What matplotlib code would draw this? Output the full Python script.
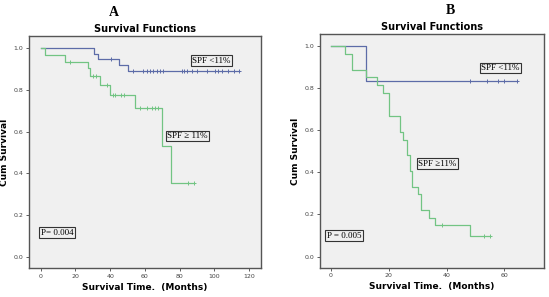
import numpy as np
import matplotlib
matplotlib.use("Agg")
import matplotlib.pyplot as plt

# ---- panel A data ----
a_low_t = [0, 30.5, 33.2, 45.3, 50.1, 114.2]
a_low_s = [1.0, 0.973, 0.946, 0.919, 0.892, 0.892]
a_low_cens_t = [40.5, 53.3, 59.1, 61.0, 63.0, 64.9, 66.8, 68.7, 70.6,
                81.2, 82.5, 84.1, 87.0, 89.9, 95.6, 100.4, 102.3, 104.3,
                108.1, 111.0, 114.2]

a_high_t = [0, 2.6, 13.8, 27.4, 28.2, 34.2, 39.9, 54.3, 70.0, 75.0, 88.5]
a_high_s = [1.0, 0.968, 0.935, 0.903, 0.868, 0.822, 0.775, 0.711, 0.533, 0.356, 0.356]
a_high_cens_t = [16.9, 30.1, 32.0, 38.4, 41.6, 43.0, 46.4, 48.0,
                 57.2, 61.0, 63.9, 65.8, 67.7, 85.0, 88.5]

# ---- panel B data ----
b_low_t = [0, 12.0, 64.2]
b_low_s = [1.0, 0.834, 0.834]
b_low_cens_t = [48.1, 54.1, 57.9, 60.0, 64.2]

b_high_t = [0, 5.0, 7.2, 12.0, 16.0, 17.9, 20.2, 23.9, 25.0, 26.2, 27.3,
            28.1, 30.2, 31.0, 34.0, 36.0, 48.1, 55.0]
b_high_s = [1.0, 0.963, 0.889, 0.852, 0.815, 0.778, 0.667, 0.593, 0.556,
            0.481, 0.407, 0.333, 0.296, 0.222, 0.185, 0.148, 0.099, 0.099]
b_high_cens_t = [38.3, 52.9, 55.0]

blue = "#5d6ca8"
green = "#72c483"
bg = "#f0f0f0"


def surv_at(times, surv, t):
    idx = np.searchsorted(times, t, side="right") - 1
    return np.array(surv)[idx]


def draw_curve(ax, t, s, cens, color):
    ax.step(t, s, where="post", color=color, lw=0.9)
    ax.plot(cens, surv_at(t, s, cens), ls="none", marker="+",
            ms=3.5, mew=0.7, color=color)


def boxed(ax, x, y, txt, ha="center"):
    ax.text(x, y, txt, ha=ha, va="center", fontsize=6.5, family="Liberation Serif",
            bbox=dict(boxstyle="square,pad=0.15", fc=bg, ec="#333333", lw=0.8))


def style(ax, xlim, xticks):
    ax.set_facecolor(bg)
    ax.set_xlim(*xlim)
    ax.set_ylim(-0.053, 1.057)
    ax.set_xticks(xticks)
    ax.set_yticks([0.0, 0.2, 0.4, 0.6, 0.8, 1.0])
    ax.set_yticklabels(["0.0", "0.2", "0.4", "0.6", "0.8", "1.0"])
    ax.tick_params(labelsize=4.5, length=2, width=0.6, colors="#444444", pad=2)
    for sp in ax.spines.values():
        sp.set_color("#555555")
        sp.set_linewidth(1.0)
    ax.set_title("Survival Functions", fontsize=7, fontweight="bold", pad=3)
    ax.set_xlabel("Survival Time.  (Months)", fontsize=6.5, fontweight="bold", labelpad=3)
    ax.set_ylabel("Cum Survival", fontsize=6.5, fontweight="bold", labelpad=3)


fig = plt.figure(figsize=(5.49, 2.97), dpi=100)
fig.patch.set_facecolor("white")

ax1 = fig.add_axes([0.0528, 0.0976, 0.4226, 0.781])
draw_curve(ax1, a_low_t, a_low_s, a_low_cens_t, blue)
draw_curve(ax1, a_high_t, a_high_s, a_high_cens_t, green)
style(ax1, (-6.7, 126.8), [0, 20, 40, 60, 80, 100, 120])
boxed(ax1, 98.1, 0.94, "SPF <11%")
boxed(ax1, 84.3, 0.579, "SPF \u2265 11%")
boxed(ax1, 0.0, 0.116, "P= 0.004", ha="left")

ax2 = fig.add_axes([0.5829, 0.0987, 0.4086, 0.786])
draw_curve(ax2, b_low_t, b_low_s, b_low_cens_t, blue)
draw_curve(ax2, b_high_t, b_high_s, b_high_cens_t, green)
style(ax2, (-3.8, 73.8), [0, 20, 40, 60])
boxed(ax2, 58.5, 0.897, "SPF <11%")
boxed(ax2, 36.7, 0.441, "SPF \u226511%")
boxed(ax2, 4.5, 0.099, "P = 0.005")

fig.text(114 / 549, 1 - 12 / 297, "A", ha="center", va="center",
         fontsize=10, fontweight="bold", family="Liberation Serif")
fig.text(450 / 549, 1 - 10 / 297, "B", ha="center", va="center",
         fontsize=10, fontweight="bold", family="Liberation Serif")

fig.savefig("out.png", dpi=100)
